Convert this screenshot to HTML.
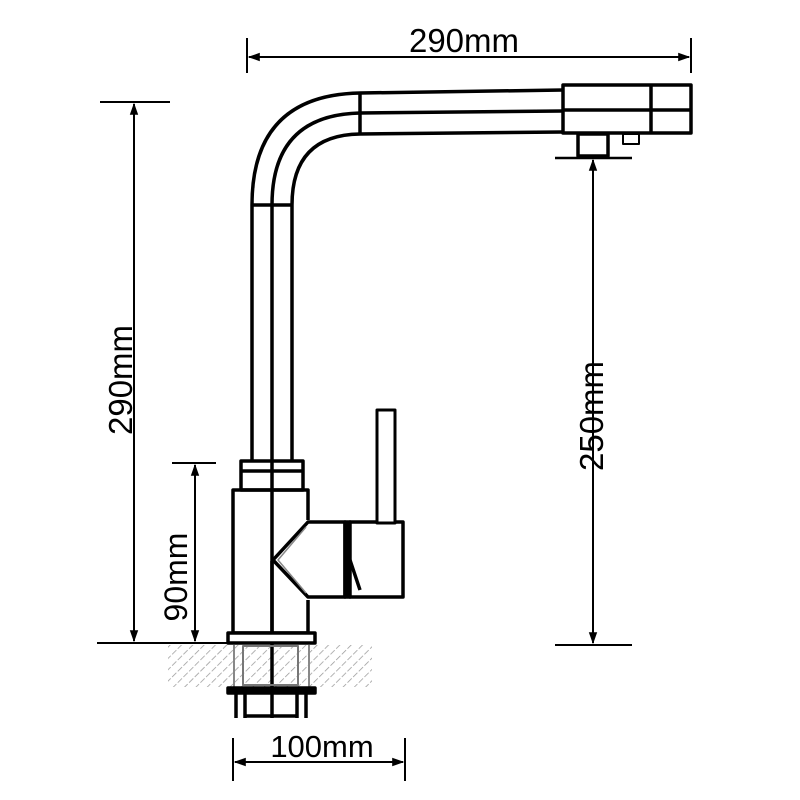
<!DOCTYPE html>
<html><head><style>html,body{margin:0;padding:0;background:#fff}svg{display:block}</style></head>
<body>
<svg width="800" height="800" viewBox="0 0 800 800" xmlns="http://www.w3.org/2000/svg">
<defs>
<marker id="a" viewBox="0 0 10 10" refX="9" refY="5" markerWidth="6" markerHeight="6" orient="auto-start-reverse"><path d="M0,1.5 L10,5 L0,8.5 z" fill="#000"/></marker>
<pattern id="h" width="8" height="8" patternUnits="userSpaceOnUse" patternTransform="rotate(45)"><line x1="0" y1="0" x2="0" y2="8" stroke="#999" stroke-width="1.5" stroke-dasharray="5,2"/></pattern>
</defs>
<g font-family="Liberation Sans, sans-serif" font-size="33" fill="#000">
<text x="464" y="52" text-anchor="middle">290mm</text>
<text x="322" y="757" text-anchor="middle" font-size="31">100mm</text>
<text transform="translate(132,380) rotate(-90)" text-anchor="middle">290mm</text>
<text transform="translate(187,577) rotate(-90)" text-anchor="middle" font-size="32">90mm</text>
<text transform="translate(603,416) rotate(-90)" text-anchor="middle">250mm</text>
</g>
<g stroke="#000" stroke-width="2" fill="none">
<line x1="247" y1="38" x2="247" y2="73"/><line x1="691" y1="38" x2="691" y2="73"/>
<line x1="249" y1="57" x2="689" y2="57" marker-start="url(#a)" marker-end="url(#a)"/>
<line x1="100" y1="102" x2="170" y2="102"/><line x1="97" y1="643" x2="230" y2="643"/>
<line x1="134" y1="104" x2="134" y2="641" marker-start="url(#a)" marker-end="url(#a)"/>
<line x1="172" y1="463" x2="216" y2="463"/>
<line x1="195" y1="465" x2="195" y2="641" marker-start="url(#a)" marker-end="url(#a)"/>
<line x1="555" y1="645" x2="632" y2="645"/>
<line x1="593" y1="160" x2="593" y2="643" marker-start="url(#a)" marker-end="url(#a)"/>
<line x1="233" y1="738" x2="233" y2="781"/><line x1="405" y1="738" x2="405" y2="781"/>
<line x1="235" y1="762" x2="403" y2="762" marker-start="url(#a)" marker-end="url(#a)"/>
</g>
<rect x="168" y="645" width="204" height="42" fill="url(#h)"/>
<g stroke="#000" stroke-width="3.5" fill="none" stroke-linejoin="round">
<path d="M252,461 V205 Q252,95 360,93 L563,90"/>
<path d="M272,461 V205 Q272,115 360,113 L563,111"/>
<path d="M292,461 V205 Q292,135 360,134 L563,132"/>
<line x1="252" y1="205" x2="292" y2="205"/>
<line x1="360" y1="93" x2="360" y2="134"/>
<rect x="563" y="85" width="128" height="48" fill="#fff"/>
<line x1="651" y1="85" x2="651" y2="133"/><line x1="563" y1="110" x2="691" y2="110"/>
<rect x="578" y="134" width="30" height="22" fill="#fff"/>
<rect x="623" y="134" width="16" height="10" stroke-width="2"/>
<line x1="555" y1="158" x2="632" y2="158" stroke-width="2.5"/>
<rect x="241" y="461" width="62" height="29" fill="#fff"/>
<line x1="241" y1="471" x2="303" y2="471"/>
<path d="M308,520 V490 H233 V633 H308 V600"/>
<line x1="272" y1="461" x2="272" y2="718"/>
<path d="M308,522 H345 V597 H308 L273,560 Z" fill="#fff"/>
<line x1="272" y1="561" x2="272" y2="633"/>
<path d="M306,527 L278,560 L306,593" stroke-width="1.5" stroke="#888"/>
<rect x="345" y="522" width="5" height="75" fill="#000"/>
<rect x="350" y="522" width="53" height="75" fill="#fff"/>
<path d="M350,560 L360,590"/>
<rect x="377" y="410" width="18" height="113" fill="#fff" stroke-width="3"/>
<rect x="228" y="633" width="87" height="10" fill="#fff"/>
<rect x="243" y="646" width="55" height="39" stroke="#777" stroke-width="2"/>
<line x1="234" y1="645" x2="234" y2="690" stroke="#888" stroke-width="2"/>
<line x1="309" y1="645" x2="309" y2="690" stroke="#888" stroke-width="2"/>
<rect x="228" y="688" width="87" height="5" fill="#000"/>
<line x1="236" y1="693" x2="236" y2="718"/><line x1="245" y1="693" x2="245" y2="718"/>
<line x1="297" y1="693" x2="297" y2="718"/><line x1="306" y1="693" x2="306" y2="718"/>
<line x1="245" y1="716" x2="297" y2="716"/>
</g>
</svg>
</body></html>
